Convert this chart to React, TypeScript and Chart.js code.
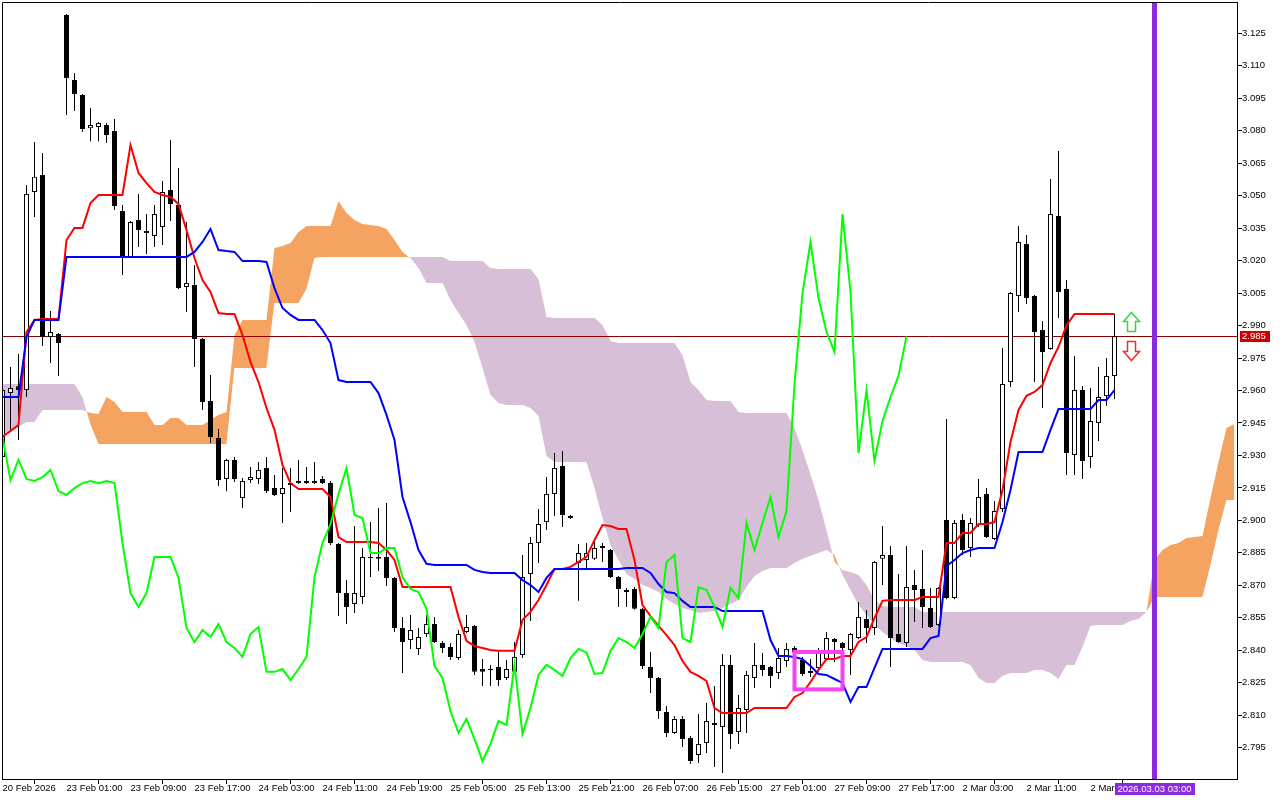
import React, { useEffect, useRef } from "react";
import { Chart, registerables } from "chart.js";

Chart.register(...registerables);

// ---------- DATA (H1 bars, index = bar number) ----------
const opens = [
  2.9293, 2.9588, 2.9620, 2.9602, 3.0517, 3.0596, 2.9847, 2.9861, 3.1335, 3.1034,
  3.0965, 3.0812, 3.0817, 3.0827, 3.0799, 3.0429, 3.0217, 3.0388, 3.0337, 3.0314,
  3.0355, 3.0526, 3.0457, 3.0078, 3.0087, 2.9838, 2.9551, 2.9380, 2.9191, 2.9279,
  2.9103, 2.9186, 2.9191, 2.9242, 2.9149, 2.9122, 2.9163, 2.9172, 2.9182, 2.9172,
  2.9191, 2.9172, 2.8891, 2.8664, 2.8614, 2.8646, 2.8826, 2.8822, 2.8831, 2.8734,
  2.8503, 2.8447, 2.8406, 2.8475, 2.8521, 2.8433, 2.8415, 2.8364, 2.8484, 2.8512,
  2.8313, 2.8309, 2.8322, 2.8272, 2.8300, 2.8378, 2.8752, 2.8895, 2.8992, 2.9122,
  2.9251, 2.9020, 2.8803, 2.8817, 2.8822, 2.8881, 2.8863, 2.8738, 2.8678, 2.8683,
  2.8591, 2.8322, 2.8272, 2.8115, 2.8018, 2.8082, 2.7994, 2.7916, 2.7971, 2.8064,
  2.8045, 2.8332, 2.8022, 2.8124, 2.8272, 2.8332, 2.8322, 2.8295, 2.8350, 2.8410,
  2.8355, 2.8304, 2.8318, 2.8359, 2.8452, 2.8433, 2.8401, 2.8456, 2.8544, 2.8503,
  2.8822, 2.8840, 2.8475, 2.8433, 2.8701, 2.8683, 2.8595, 2.8517, 2.9002, 2.8641,
  2.9002, 2.8872, 2.8978, 2.9122, 2.8914, 2.9052, 2.9639, 3.0036, 3.0277, 3.0036,
  2.9879, 2.9792, 3.0406, 3.0069, 2.9302, 2.9602, 2.9293, 2.9450, 2.9574, 2.9667,
];
const highs = [
  2.9611, 2.9709, 2.9769, 3.0549, 3.0748, 3.0697, 2.9967, 2.9865, 3.1339, 3.1067,
  3.0970, 3.0905, 3.0840, 3.0836, 3.0854, 3.0457, 3.0383, 3.0508, 3.0415, 3.0457,
  3.0568, 3.0757, 3.0628, 3.0378, 3.0180, 2.9842, 2.9672, 2.9422, 2.9284, 2.9293,
  2.9196, 2.9247, 2.9270, 2.9293, 2.9210, 2.9242, 2.9242, 2.9279, 2.9247, 2.9270,
  2.9205, 2.9182, 2.8895, 2.8724, 2.8974, 2.8872, 2.8992, 2.9057, 2.9080, 2.8738,
  2.8554, 2.8563, 2.8503, 2.8563, 2.8554, 2.8443, 2.8433, 2.8493, 2.8563, 2.8517,
  2.8359, 2.8332, 2.8392, 2.8355, 2.8438, 2.8840, 2.8923, 2.9052, 2.9200, 2.9311,
  2.9320, 2.9025, 2.8891, 2.8895, 2.8900, 2.8895, 2.8868, 2.8743, 2.8688, 2.8692,
  2.8595, 2.8392, 2.8276, 2.8142, 2.8096, 2.8096, 2.8004, 2.8105, 2.8156, 2.8235,
  2.8383, 2.8378, 2.8193, 2.8304, 2.8433, 2.8387, 2.8327, 2.8410, 2.8433, 2.8420,
  2.8369, 2.8359, 2.8410, 2.8484, 2.8456, 2.8438, 2.8480, 2.8623, 2.8586, 2.8812,
  2.8974, 2.8882, 2.8752, 2.8882, 2.8771, 2.8863, 2.8688, 2.8692, 2.9468, 2.9002,
  2.9029, 2.9011, 2.9191, 2.9149, 2.9089, 2.9796, 3.0055, 3.0360, 3.0318, 3.0041,
  2.9921, 3.0577, 3.0706, 3.0110, 2.9759, 2.9621, 2.9611, 2.9709, 2.9750, 2.9953,
];
const lows = [
  2.9279, 2.9418, 2.9371, 2.9570, 3.0402, 2.9805, 2.9727, 2.9667, 3.0873, 3.0891,
  3.0794, 3.0752, 3.0752, 3.0743, 3.0434, 3.0133, 3.0212, 3.0263, 3.0230, 3.0263,
  3.0272, 3.0383, 3.0069, 2.9963, 2.9709, 2.9510, 2.9357, 2.9159, 2.9135, 2.9177,
  2.9057, 2.9172, 2.9168, 2.9126, 2.9113, 2.8988, 2.9039, 2.9168, 2.9168, 2.9168,
  2.9168, 2.8886, 2.8558, 2.8521, 2.8572, 2.8614, 2.8738, 2.8766, 2.8697, 2.8484,
  2.8295, 2.8406, 2.8378, 2.8461, 2.8433, 2.8387, 2.8355, 2.8355, 2.8480, 2.8286,
  2.8235, 2.8235, 2.8235, 2.8262, 2.8295, 2.8364, 2.8535, 2.8803, 2.8955, 2.9020,
  2.8969, 2.9006, 2.8628, 2.8771, 2.8817, 2.8808, 2.8734, 2.8600, 2.8600, 2.8587,
  2.8313, 2.8202, 2.8082, 2.7999, 2.8013, 2.7953, 2.7874, 2.7879, 2.7925, 2.7861,
  2.7833, 2.7944, 2.7967, 2.8018, 2.8225, 2.8281, 2.8225, 2.8267, 2.8322, 2.8380,
  2.8281, 2.8276, 2.8300, 2.8355, 2.8346, 2.8332, 2.8286, 2.8452, 2.8433, 2.8470,
  2.8701, 2.8322, 2.8434, 2.8415, 2.8530, 2.8503, 2.8503, 2.8512, 2.8636, 2.8636,
  2.8840, 2.8831, 2.8969, 2.8918, 2.8909, 2.9039, 2.9616, 2.9963, 3.0000, 2.9639,
  2.9519, 2.9788, 2.9935, 2.9210, 2.9210, 2.9191, 2.9242, 2.9367, 2.9528, 2.9561,
];
const closes = [
  2.9602, 2.9611, 2.9602, 3.0508, 3.0587, 2.9847, 2.9870, 2.9819, 3.1043, 3.0970,
  3.0808, 3.0827, 3.0836, 3.0780, 3.0452, 3.0221, 3.0378, 3.0341, 3.0327, 3.0415,
  3.0517, 3.0462, 3.0073, 3.0097, 2.9838, 2.9547, 2.9385, 2.9186, 2.9279, 2.9191,
  2.9182, 2.9200, 2.9233, 2.9135, 2.9117, 2.9149, 2.9172, 2.9182, 2.9172, 2.9182,
  2.9172, 2.8895, 2.8664, 2.8600, 2.8664, 2.8831, 2.8831, 2.8831, 2.8734, 2.8503,
  2.8438, 2.8493, 2.8461, 2.8521, 2.8438, 2.8410, 2.8369, 2.8475, 2.8507, 2.8300,
  2.8300, 2.8313, 2.8262, 2.8313, 2.8369, 2.8738, 2.8895, 2.8983, 2.9122, 2.9242,
  2.9025, 2.9011, 2.8849, 2.8849, 2.8872, 2.8872, 2.8738, 2.8683, 2.8669, 2.8591,
  2.8327, 2.8272, 2.8119, 2.8018, 2.8082, 2.7990, 2.7888, 2.7967, 2.8073, 2.8055,
  2.8332, 2.8013, 2.8133, 2.8286, 2.8332, 2.8309, 2.8281, 2.8364, 2.8406, 2.8390,
  2.8290, 2.8295, 2.8397, 2.8456, 2.8438, 2.8410, 2.8475, 2.8554, 2.8503, 2.8808,
  2.8840, 2.8456, 2.8438, 2.8692, 2.8678, 2.8600, 2.8507, 2.8688, 2.8641, 2.8988,
  2.8863, 2.8988, 2.9108, 2.8923, 2.9043, 2.9630, 3.0050, 3.0286, 3.0027, 2.9870,
  2.9778, 3.0415, 3.0055, 2.9311, 2.9602, 2.9274, 2.9459, 2.9570, 2.9667, 2.9850,
];

// Tenkan-sen (red)
const tenkan = [
  2.9386, 2.9413, 2.9441, 2.9870, 2.9926, 2.9930, 2.9930, 2.9930, 3.0295, 3.0351,
  3.0351, 3.0466, 3.0503, 3.0503, 3.0503, 3.0503, 3.0734, 3.0605, 3.0558, 3.0517,
  3.0503, 3.0494, 3.0462, 3.0341, 3.0212, 3.0110, 3.0055, 2.9958, 2.9953, 2.9953,
  2.9856, 2.9732, 2.9639, 2.9519, 2.9418, 2.9256, 2.9172, 2.9145, 2.9145, 2.9145,
  2.9145, 2.9108, 2.8923, 2.8900, 2.8900, 2.8900, 2.8900, 2.8895, 2.8863, 2.8817,
  2.8692, 2.8692, 2.8692, 2.8692, 2.8692, 2.8692, 2.8692, 2.8554, 2.8443, 2.8419,
  2.8410, 2.8401, 2.8397, 2.8397, 2.8397, 2.8540, 2.8577, 2.8632, 2.8701, 2.8775,
  2.8775, 2.8785, 2.8808, 2.8831, 2.8909, 2.8978, 2.8974, 2.8960, 2.8960, 2.8817,
  2.8609, 2.8558, 2.8512, 2.8470, 2.8424, 2.8350, 2.8300, 2.8281, 2.8258, 2.8133,
  2.8110, 2.8110, 2.8110, 2.8110, 2.8133, 2.8133, 2.8133, 2.8133, 2.8133, 2.8184,
  2.8202, 2.8253, 2.8309, 2.8359, 2.8359, 2.8373, 2.8373, 2.8438, 2.8461, 2.8549,
  2.8628, 2.8632, 2.8632, 2.8632, 2.8632, 2.8646, 2.8646, 2.8646, 2.8895, 2.8895,
  2.8942, 2.8942, 2.8983, 2.8983, 2.8992, 2.9140, 2.9362, 2.9510, 2.9575, 2.9593,
  2.9625, 2.9727, 2.9801, 2.9902, 2.9953, 2.9953, 2.9953, 2.9953, 2.9953, 2.9953,
];

// Kijun-sen (blue)
const kijun = [
  2.9570, 2.9570, 2.9570, 2.9847, 2.9926, 2.9926, 2.9926, 2.9926, 3.0217, 3.0217,
  3.0217, 3.0217, 3.0217, 3.0217, 3.0217, 3.0217, 3.0217, 3.0217, 3.0217, 3.0217,
  3.0217, 3.0217, 3.0217, 3.0217, 3.0240, 3.0286, 3.0346, 3.0249, 3.0244, 3.0240,
  3.0198, 3.0198, 3.0198, 3.0194, 3.0073, 2.9981, 2.9949, 2.9926, 2.9926, 2.9926,
  2.9879, 2.9819, 2.9648, 2.9639, 2.9639, 2.9639, 2.9639, 2.9588, 2.9487, 2.9371,
  2.9108, 2.8992, 2.8863, 2.8799, 2.8794, 2.8794, 2.8794, 2.8794, 2.8794, 2.8771,
  2.8761, 2.8757, 2.8757, 2.8757, 2.8757, 2.8724, 2.8701, 2.8669, 2.8734, 2.8775,
  2.8775, 2.8775, 2.8775, 2.8775, 2.8775, 2.8775, 2.8775, 2.8775, 2.8780, 2.8780,
  2.8780, 2.8757, 2.8706, 2.8669, 2.8664, 2.8628, 2.8600, 2.8600, 2.8600, 2.8600,
  2.8581, 2.8581, 2.8581, 2.8581, 2.8581, 2.8581, 2.8447, 2.8373, 2.8373, 2.8369,
  2.8359, 2.8327, 2.8290, 2.8286, 2.8267, 2.8249, 2.8161, 2.8230, 2.8230, 2.8318,
  2.8406, 2.8406, 2.8406, 2.8406, 2.8406, 2.8406, 2.8456, 2.8466, 2.8789, 2.8817,
  2.8849, 2.8863, 2.8872, 2.8872, 2.8872, 2.8992, 2.9140, 2.9316, 2.9316, 2.9316,
  2.9316, 2.9418, 2.9514, 2.9514, 2.9514, 2.9514, 2.9514, 2.9556, 2.9556, 2.9602,
];

// Chikou span (green), plotted from bar 0
const chikou = [
  2.9385, 2.9186, 2.9279, 2.9191, 2.9182, 2.9200, 2.9233, 2.9135, 2.9117, 2.9149,
  2.9172, 2.9182, 2.9172, 2.9182, 2.9172, 2.8895, 2.8664, 2.8600, 2.8664, 2.8831,
  2.8831, 2.8831, 2.8734, 2.8503, 2.8438, 2.8493, 2.8461, 2.8521, 2.8438, 2.8410,
  2.8369, 2.8475, 2.8507, 2.8300, 2.8300, 2.8313, 2.8262, 2.8313, 2.8369, 2.8738,
  2.8895, 2.8983, 2.9122, 2.9242, 2.9025, 2.9011, 2.8849, 2.8849, 2.8872, 2.8872,
  2.8738, 2.8683, 2.8669, 2.8591, 2.8327, 2.8272, 2.8119, 2.8018, 2.8082, 2.7990,
  2.7888, 2.7967, 2.8073, 2.8055, 2.8332, 2.8013, 2.8133, 2.8286, 2.8332, 2.8309,
  2.8281, 2.8364, 2.8406, 2.8390, 2.8290, 2.8295, 2.8397, 2.8456, 2.8438, 2.8410,
  2.8475, 2.8554, 2.8503, 2.8808, 2.8840, 2.8456, 2.8438, 2.8692, 2.8678, 2.8600,
  2.8507, 2.8688, 2.8641, 2.8988, 2.8863, 2.8988, 2.9108, 2.8923, 2.9043, 2.9630,
  3.0050, 3.0286, 3.0027, 2.9870, 2.9778, 3.0415, 3.0055, 2.9311, 2.9602, 2.9274,
  2.9459, 2.9570, 2.9667, 2.9850,
];

// Senkou span A / B (cloud), bars 0..154
const senkouA = [
  2.9386, 2.9408, 2.9431, 2.9454, 2.9454, 2.9510, 2.9510, 2.9510, 2.9510, 2.9510,
  2.9510, 2.9496, 2.9491, 2.9570, 2.9547, 2.9501, 2.9501, 2.9501, 2.9501, 2.9441,
  2.9441, 2.9473, 2.9473, 2.9441, 2.9441, 2.9441, 2.9464, 2.9487, 2.9501, 2.9856,
  2.9926, 2.9926, 2.9926, 2.9926, 3.0258, 3.0267, 3.0281, 3.0332, 3.0360, 3.0360,
  3.0360, 3.0360, 3.0475, 3.0420, 3.0388, 3.0369, 3.0365, 3.0360, 3.0346, 3.0295,
  3.0240, 3.0212, 3.0166, 3.0097, 3.0097, 3.0097, 3.0018, 2.9958, 2.9902, 2.9824,
  2.9704, 2.9579, 2.9542, 2.9533, 2.9533, 2.9533, 2.9519, 2.9482, 2.9297, 2.9270,
  2.9270, 2.9270, 2.9270, 2.9270, 2.9149, 2.9011, 2.8886, 2.8817, 2.8752, 2.8729,
  2.8701, 2.8688, 2.8669, 2.8637, 2.8614, 2.8595, 2.8586, 2.8572, 2.8577, 2.8581,
  2.8595, 2.8614, 2.8632, 2.8692, 2.8743, 2.8766, 2.8780, 2.8780, 2.8780, 2.8803,
  2.8822, 2.8836, 2.8849, 2.8863, 2.8840, 2.8748, 2.8678, 2.8609, 2.8563, 2.8517,
  2.8484, 2.8456, 2.8433, 2.8419, 2.8401, 2.8355, 2.8346, 2.8346, 2.8346, 2.8346,
  2.8346, 2.8332, 2.8272, 2.8249, 2.8249, 2.8281, 2.8295, 2.8295, 2.8295, 2.8309,
  2.8309, 2.8295, 2.8267, 2.8332, 2.8332, 2.8415, 2.8512, 2.8517, 2.8517, 2.8517,
  2.8517, 2.8535, 2.8544, 2.8577, 2.8817, 2.8863, 2.8886, 2.8895, 2.8918, 2.8923,
  2.8928, 2.9103, 2.9270, 2.9427, 2.9445,
];
const senkouB = [
  2.9630, 2.9630, 2.9630, 2.9630, 2.9630, 2.9630, 2.9630, 2.9630, 2.9630, 2.9630,
  2.9570, 2.9441, 2.9353, 2.9353, 2.9353, 2.9353, 2.9353, 2.9353, 2.9353, 2.9353,
  2.9353, 2.9353, 2.9353, 2.9353, 2.9353, 2.9353, 2.9353, 2.9353, 2.9353, 2.9704,
  2.9704, 2.9704, 2.9704, 2.9704, 3.0004, 3.0004, 3.0004, 3.0004, 3.0069, 3.0212,
  3.0217, 3.0217, 3.0217, 3.0217, 3.0217, 3.0217, 3.0217, 3.0217, 3.0217, 3.0217,
  3.0217, 3.0217, 3.0217, 3.0217, 3.0217, 3.0217, 3.0198, 3.0198, 3.0198, 3.0198,
  3.0198, 3.0166, 3.0161, 3.0161, 3.0161, 3.0161, 3.0161, 3.0115, 2.9940, 2.9935,
  2.9935, 2.9935, 2.9935, 2.9935, 2.9935, 2.9902, 2.9829, 2.9819, 2.9819, 2.9819,
  2.9819, 2.9819, 2.9819, 2.9819, 2.9819, 2.9764, 2.9639, 2.9602, 2.9556, 2.9551,
  2.9551, 2.9551, 2.9501, 2.9496, 2.9496, 2.9496, 2.9496, 2.9496, 2.9496, 2.9427,
  2.9325, 2.9214, 2.9094, 2.8955, 2.8808, 2.8771, 2.8761, 2.8748, 2.8701, 2.8632,
  2.8604, 2.8600, 2.8600, 2.8600, 2.8600, 2.8577, 2.8577, 2.8577, 2.8577, 2.8577,
  2.8577, 2.8577, 2.8577, 2.8577, 2.8577, 2.8577, 2.8577, 2.8577, 2.8577, 2.8577,
  2.8577, 2.8577, 2.8577, 2.8577, 2.8577, 2.8577, 2.8577, 2.8577, 2.8577, 2.8577,
  2.8577, 2.8577, 2.8577, 2.8577, 2.8646, 2.8646, 2.8646, 2.8646, 2.8646, 2.8646,
  2.8646, 2.8794, 2.8955, 2.9094, 2.9094,
];

// Time-axis labels, one every LABEL_STEP bars starting at bar 0
const timeLabels = [
  "20 Feb 2026", "23 Feb 01:00", "23 Feb 09:00", "23 Feb 17:00", "24 Feb 03:00",
  "24 Feb 11:00", "24 Feb 19:00", "25 Feb 05:00", "25 Feb 13:00", "25 Feb 21:00",
  "26 Feb 07:00", "26 Feb 15:00", "27 Feb 01:00", "27 Feb 09:00", "27 Feb 17:00",
  "2 Mar 03:00", "2 Mar 11:00", "2 Mar 19:00",
];
const LABEL_STEP = 8;

// Price-axis tick labels
const priceTicks = [
  2.795, 2.81, 2.825, 2.84, 2.855, 2.87, 2.885, 2.9, 2.915, 2.93, 2.945, 2.96,
  2.975, 2.99, 3.005, 3.02, 3.035, 3.05, 3.065, 3.08, 3.095, 3.11, 3.125,
];

const BID_PRICE = 2.985;
const CURSOR_BAR = 144;
const CURSOR_LABEL = "2026.03.03 03:00";
const BOX = { fromBar: 99, toBar: 105, top: 2.8392, bottom: 2.8219 };
const ARROW_UP = { bar: 141, price: 2.9963 };
const ARROW_DOWN = { bar: 141, price: 2.9741 };

// visible ranges
const X_MIN = -0.0625;
const X_MAX = 154.3125;
const Y_MIN = 2.780502;
const Y_MAX = 3.139476;

// ---------- STYLE ----------
const FONT_FAMILY = "'Liberation Sans', Arial, sans-serif";
const FONT_SIZE = 9.5;
const FONT = `${FONT_SIZE}px ${FONT_FAMILY}`;
const SANDY = "#f4a460";
const THISTLE = "#d8bfd8";

const overlayPlugin = {
  id: "mt4Overlay",
  beforeDatasetsDraw(chart: any) {
    const { ctx, chartArea } = chart;
    const y = chart.scales.y;
    const py = Math.round(y.getPixelForValue(BID_PRICE)) + 0.5;
    ctx.save();
    ctx.strokeStyle = "#8c0000";
    ctx.lineWidth = 1;
    ctx.beginPath();
    ctx.moveTo(chartArea.left, py);
    ctx.lineTo(chartArea.right, py);
    ctx.stroke();
    ctx.restore();
  },
  afterDatasetsDraw(chart: any) {
    const { ctx, chartArea } = chart;
    const xs = chart.scales.x;
    const ys = chart.scales.y;
    ctx.save();
    ctx.beginPath();
    ctx.rect(chartArea.left, chartArea.top, chartArea.right - chartArea.left, chartArea.bottom - chartArea.top);
    ctx.clip();

    // magenta box
    const bx1 = xs.getPixelForValue(BOX.fromBar);
    const bx2 = xs.getPixelForValue(BOX.toBar);
    const by1 = ys.getPixelForValue(BOX.top);
    const by2 = ys.getPixelForValue(BOX.bottom);
    ctx.strokeStyle = "#f542f5";
    ctx.lineWidth = 4;
    ctx.strokeRect(bx1, by1, bx2 - bx1, by2 - by1);

    // arrows
    const ux = Math.round(xs.getPixelForValue(ARROW_UP.bar)) + 0.5;
    const uy = Math.round(ys.getPixelForValue(ARROW_UP.price)) + 0.5;
    ctx.beginPath();
    ctx.moveTo(ux, uy);
    ctx.lineTo(ux + 8, uy + 9);
    ctx.lineTo(ux + 4, uy + 9);
    ctx.lineTo(ux + 4, uy + 19);
    ctx.lineTo(ux - 4, uy + 19);
    ctx.lineTo(ux - 4, uy + 9);
    ctx.lineTo(ux - 8, uy + 9);
    ctx.closePath();
    ctx.fillStyle = "#ffffff";
    ctx.fill();
    ctx.lineWidth = 1.5;
    ctx.strokeStyle = "#3fcf3f";
    ctx.stroke();

    const dx = Math.round(xs.getPixelForValue(ARROW_DOWN.bar)) + 0.5;
    const dy = Math.round(ys.getPixelForValue(ARROW_DOWN.price)) + 0.5;
    ctx.beginPath();
    ctx.moveTo(dx, dy);
    ctx.lineTo(dx + 8, dy - 9);
    ctx.lineTo(dx + 4, dy - 9);
    ctx.lineTo(dx + 4, dy - 19);
    ctx.lineTo(dx - 4, dy - 19);
    ctx.lineTo(dx - 4, dy - 9);
    ctx.lineTo(dx - 8, dy - 9);
    ctx.closePath();
    ctx.fillStyle = "#ffffff";
    ctx.fill();
    ctx.strokeStyle = "#f03030";
    ctx.stroke();

    // cursor (vertical purple line)
    const cx = xs.getPixelForValue(CURSOR_BAR);
    ctx.fillStyle = "#8a2be2";
    ctx.fillRect(Math.round(cx - 2.5), chartArea.top, 5, chartArea.bottom - chartArea.top);
    ctx.restore();
  },
  afterDraw(chart: any) {
    const { ctx, chartArea } = chart;
    const xs = chart.scales.x;
    const ys = chart.scales.y;
    ctx.save();
    // top & left frame lines
    ctx.strokeStyle = "#000";
    ctx.lineWidth = 1;
    ctx.beginPath();
    ctx.moveTo(chartArea.left + 0.5, chartArea.bottom);
    ctx.lineTo(chartArea.left + 0.5, chartArea.top + 0.5);
    ctx.lineTo(chartArea.right, chartArea.top + 0.5);
    ctx.stroke();

    ctx.font = FONT;
    ctx.textBaseline = "middle";
    // bid price tag
    const py = Math.round(ys.getPixelForValue(BID_PRICE));
    ctx.fillStyle = "#cc0000";
    ctx.fillRect(chartArea.right + 3, py - 5, 30, 11);
    ctx.fillStyle = "#ffffff";
    ctx.textAlign = "left";
    ctx.fillText(BID_PRICE.toFixed(3), chartArea.right + 5, py + 0.5);

    // cursor time tag
    const cx = xs.getPixelForValue(CURSOR_BAR);
    const tw = ctx.measureText(CURSOR_LABEL).width;
    ctx.fillStyle = "#8a2be2";
    ctx.fillRect(Math.round(cx - tw / 2 - 3), chartArea.bottom + 4, Math.round(tw + 6), 12);
    ctx.fillStyle = "#ffffff";
    ctx.textAlign = "center";
    ctx.fillText(CURSOR_LABEL, cx, chartArea.bottom + 10.5);
    ctx.restore();
  },
};

export default function App() {
  const canvasRef = useRef<HTMLCanvasElement | null>(null);

  useEffect(() => {
    const canvas = canvasRef.current;
    if (!canvas) return;

    const wicks = closes.map((_, i) => ({ x: i, y: [lows[i], highs[i]] }));
    const upBodies: any[] = [];
    const downBodies: any[] = [];
    closes.forEach((c, i) => {
      const o = opens[i];
      if (c >= o) upBodies.push({ x: i, y: [o, c] });
      else downBodies.push({ x: i, y: [c, o] });
    });
    const pts = (arr: number[]) => arr.map((v, i) => ({ x: i, y: v }));

    const barCommon = {
      type: "bar" as const,
      grouped: false,
      borderSkipped: false,
      inflateAmount: 0,
    };

    const chart = new Chart(canvas, {
      type: "bar",
      data: {
        datasets: [
          {
            type: "line",
            label: "Senkou A",
            data: pts(senkouA),
            borderWidth: 0,
            borderColor: "rgba(0,0,0,0)",
            pointRadius: 0,
            tension: 0,
            fill: { target: 1, above: SANDY, below: THISTLE },
            order: 8,
          } as any,
          {
            type: "line",
            label: "Senkou B",
            data: pts(senkouB),
            borderWidth: 0,
            borderColor: "rgba(0,0,0,0)",
            pointRadius: 0,
            tension: 0,
            fill: false,
            order: 7,
          } as any,
          {
            ...barCommon,
            label: "wicks",
            data: wicks,
            barThickness: 1,
            backgroundColor: "#000",
            borderWidth: 0,
            order: 6,
          } as any,
          {
            ...barCommon,
            label: "up",
            data: upBodies,
            barThickness: 5,
            backgroundColor: "#fff",
            borderColor: "#000",
            borderWidth: 1,
            order: 5,
          } as any,
          {
            ...barCommon,
            label: "down",
            data: downBodies,
            barThickness: 5,
            backgroundColor: "#000",
            borderColor: "#000",
            borderWidth: 1,
            order: 4,
          } as any,
          {
            type: "line",
            label: "Tenkan",
            data: pts(tenkan),
            borderColor: "#ff0000",
            borderWidth: 2,
            pointRadius: 0,
            tension: 0,
            fill: false,
            order: 3,
          } as any,
          {
            type: "line",
            label: "Kijun",
            data: pts(kijun),
            borderColor: "#0000ff",
            borderWidth: 2,
            pointRadius: 0,
            tension: 0,
            fill: false,
            order: 2,
          } as any,
          {
            type: "line",
            label: "Chikou",
            data: pts(chikou),
            borderColor: "#00ff00",
            borderWidth: 2,
            pointRadius: 0,
            tension: 0,
            fill: false,
            order: 1,
          } as any,
        ],
      },
      options: {
        animation: false,
        responsive: false,
        maintainAspectRatio: false,
        devicePixelRatio: 1,
        events: [],
        layout: { padding: { left: 2, top: 2, right: 0, bottom: 0 } },
        plugins: {
          legend: { display: false },
          tooltip: { enabled: false },
          filler: { drawTime: "beforeDatasetsDraw" },
        } as any,
        scales: {
          x: {
            type: "linear",
            position: "bottom",
            min: X_MIN,
            max: X_MAX,
            bounds: "data",
            offset: false,
            grid: { drawOnChartArea: false, drawTicks: true, tickLength: 5, color: "#000", lineWidth: 1 },
            border: { display: true, color: "#000", width: 1 },
            ticks: {
              autoSkip: false,
              maxRotation: 0,
              minRotation: 0,
              align: "start",
              padding: -1,
              color: "#000",
              font: { family: FONT_FAMILY, size: FONT_SIZE },
              callback: (_v: any, i: number) => timeLabels[i] ?? "",
            },
            afterBuildTicks: (s: any) => {
              s.ticks = timeLabels.map((_, i) => ({ value: i * LABEL_STEP }));
            },
            afterFit: (s: any) => {
              s.height = 21;
              s.paddingLeft = 0;
              s.paddingRight = 0;
            },
          } as any,
          y: {
            type: "linear",
            position: "right",
            min: Y_MIN,
            max: Y_MAX,
            bounds: "data",
            grid: { drawOnChartArea: false, drawTicks: true, tickLength: 5, color: "#000", lineWidth: 1 },
            border: { display: true, color: "#000", width: 1 },
            ticks: {
              padding: 0,
              color: "#000",
              font: { family: FONT_FAMILY, size: FONT_SIZE },
              callback: (v: any) => Number(v).toFixed(3),
            },
            afterBuildTicks: (s: any) => {
              s.ticks = priceTicks.map((v) => ({ value: v }));
            },
            afterFit: (s: any) => {
              s.width = 43;
              s.paddingTop = 0;
              s.paddingBottom = 0;
            },
          } as any,
        },
      },
      plugins: [overlayPlugin],
    });

    return () => chart.destroy();
  }, []);

  return (
    <div style={{ position: "fixed", left: 0, top: 0, width: 1280, height: 800, background: "#fff" }}>
      <canvas ref={canvasRef} width={1280} height={800} style={{ display: "block" }} />
    </div>
  );
}
